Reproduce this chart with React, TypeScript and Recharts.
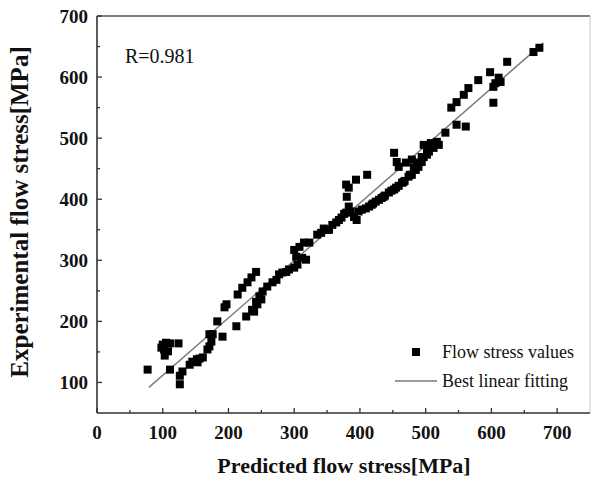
import React from 'react';
import { ScatterChart, Scatter, XAxis, YAxis, ReferenceLine } from 'recharts';

// Predicted (x) vs experimental (y) flow stress values [MPa]
const PRED: number[] = [
  77, 100, 105, 111, 102, 108, 103, 98, 124, 111, 126, 130, 126, 141, 145, 152, 156, 161, 153,
  168, 171, 174, 176, 171, 183, 191, 212, 194, 197, 227, 239, 244, 250, 214, 221, 229, 235, 242,
  236, 242, 247, 252, 259, 267, 273, 277, 282, 288, 292, 300, 305, 303, 300, 308, 315, 323, 312,
  318, 335, 341, 350, 353, 358, 364, 368, 376, 379, 383, 380, 383, 379, 394, 411, 391, 395, 398,
  403, 409, 414, 418, 424, 429, 433, 438, 444, 448, 455, 459, 464, 468, 474, 479, 485, 482, 489,
  494, 497, 502, 505, 456, 452, 459, 470, 479, 512, 520, 489, 494, 497, 502, 508, 517, 530, 547,
  561, 539, 547, 558, 565, 580, 598, 611, 614, 606, 603, 603, 624, 664, 673,
  345, 372, 386, 420, 436, 452, 466, 476, 487,
];
const EXPER: number[] = [
  121, 162, 165, 164, 154, 151, 144, 157, 164, 121, 111, 118, 97, 129, 134, 138, 139, 141, 133,
  154, 159, 167, 179, 179, 200, 175, 192, 223, 228, 208, 216, 228, 236, 244, 255, 264, 272, 281,
  219, 232, 241, 249, 257, 264, 268, 277, 280, 281, 285, 288, 293, 306, 317, 322, 329, 329, 304,
  301, 342, 345, 350, 350, 358, 362, 366, 376, 378, 388, 404, 419, 424, 432, 440, 371, 366, 380,
  383, 385, 388, 391, 396, 399, 402, 406, 411, 414, 419, 422, 427, 430, 437, 440, 448, 452, 460,
  461, 469, 473, 478, 461, 476, 453, 460, 465, 484, 489, 453, 469, 489, 481, 492, 494, 509, 522,
  519, 550, 559, 571, 582, 595, 608, 599, 592, 590, 584, 558, 625, 641, 648,
  352, 370, 380, 393, 404, 416, 428, 440, 455,
];

// Best linear fitting end points
const FIT_X: number[] = [79, 679];
const FIT_Y: number[] = [92, 656];

const X_TICKS: number[] = [0, 50, 100, 150, 200, 250, 300, 350, 400, 450, 500, 550, 600, 650, 700];
const Y_TICKS: number[] = [100, 150, 200, 250, 300, 350, 400, 450, 500, 550, 600, 650, 700];

const R_LABEL = 'R=0.981';
const SERIES_NAME = 'Flow stress values';
const FIT_NAME = 'Best linear fitting';
const X_TITLE = 'Predicted flow stress[MPa]';
const Y_TITLE = 'Experimental flow stress[MPa]';

const points = PRED.map((x, i) => ({ x, y: EXPER[i] }));
const fit = FIT_X.map((x, i) => ({ x, y: FIT_Y[i] }));

const FONT = '"Liberation Serif", "Times New Roman", serif';
const AXIS = '#333';

const XTick = (props: any) => {
  const { x, y, payload } = props;
  const v = payload.value as number;
  const major = v % 100 === 0;
  return (
    <g>
      <line x1={x} x2={x} y1={y} y2={y - (major ? 5 : 3)} stroke={AXIS} strokeWidth={1.3} />
      {major && (
        <text x={x} y={y + 26} textAnchor="middle" fontFamily={FONT} fontWeight="bold" fontSize={19} fill="#111">
          {v}
        </text>
      )}
    </g>
  );
};

const YTick = (props: any) => {
  const { x, y, payload } = props;
  const v = payload.value as number;
  const major = v % 100 === 0;
  return (
    <g>
      <line x1={x} x2={x + (major ? 5 : 3)} y1={y} y2={y} stroke={AXIS} strokeWidth={1.3} />
      {major && (
        <text x={x - 9} y={y + 6.5} textAnchor="end" fontFamily={FONT} fontWeight="bold" fontSize={19} fill="#111">
          {v}
        </text>
      )}
    </g>
  );
};

const Square = (props: any) => {
  const { cx, cy } = props;
  if (cx == null || cy == null) return null;
  return <rect x={cx - 4} y={cy - 4} width={8} height={8} fill="#000" />;
};

const NoShape = () => null;

export default function App() {
  return (
    <div style={{ position: 'absolute', left: 0, top: 0, width: 591, height: 482, background: '#fff' }}>
      <ScatterChart width={591} height={482} margin={{ top: 16, right: 1, bottom: 0, left: 0 }}>
        <XAxis
          type="number"
          dataKey="x"
          domain={[0, 750]}
          ticks={X_TICKS}
          interval={0}
          height={69}
          tickSize={0}
          tickMargin={0}
          tickLine={false}
          tick={<XTick />}
          axisLine={{ stroke: AXIS, strokeWidth: 1.6 }}
          allowDataOverflow
        />
        <YAxis
          type="number"
          dataKey="y"
          domain={[50, 700]}
          ticks={Y_TICKS}
          interval={0}
          width={97}
          tickSize={0}
          tickMargin={0}
          tickLine={false}
          tick={<YTick />}
          axisLine={{ stroke: AXIS, strokeWidth: 1.6 }}
          allowDataOverflow
        />
        <ReferenceLine y={700} stroke="#555" strokeWidth={1.6} />
        <ReferenceLine x={750} stroke="#c8c8c8" strokeWidth={1} />
        <Scatter
          name={FIT_NAME}
          data={fit}
          line={{ stroke: '#7a7a7a', strokeWidth: 1.4 }}
          shape={<NoShape />}
          isAnimationActive={false}
        />
        <Scatter name={SERIES_NAME} data={points} shape={<Square />} isAnimationActive={false} />
      </ScatterChart>
      <svg
        width={591}
        height={482}
        style={{ position: 'absolute', left: 0, top: 0, pointerEvents: 'none' }}
      >
        <text x={125} y={63} fontFamily={FONT} fontSize={20} fill="#111">
          {R_LABEL}
        </text>
        <rect x={412} y={348} width={8} height={8} fill="#000" />
        <text x={442} y={358} fontFamily={FONT} fontSize={18} fill="#111">
          {SERIES_NAME}
        </text>
        <line x1={395} x2={437} y1={381} y2={381} stroke="#7a7a7a" strokeWidth={1.4} />
        <text x={442} y={387} fontFamily={FONT} fontSize={18} fill="#111">
          {FIT_NAME}
        </text>
        <text x={344} y={473} textAnchor="middle" fontFamily={FONT} fontWeight="bold" fontSize={22} fill="#111">
          {X_TITLE}
        </text>
        <text
          transform="translate(28, 212) rotate(-90)"
          textAnchor="middle"
          fontFamily={FONT}
          fontWeight="bold"
          fontSize={25}
          fill="#111"
        >
          {Y_TITLE}
        </text>
      </svg>
    </div>
  );
}
